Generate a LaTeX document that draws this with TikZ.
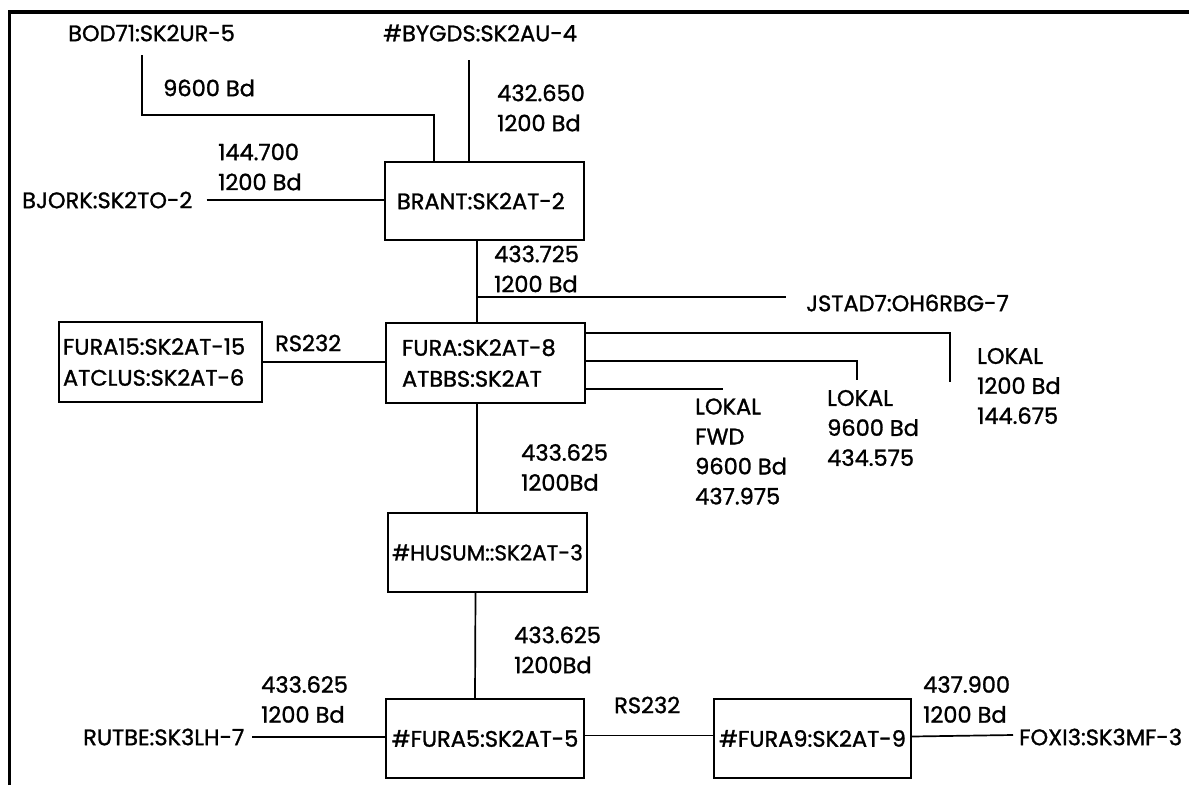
\documentclass[tikz,border=0pt]{standalone}
\usepackage{fontspec}
\setmainfont{Poppins}[UprightFeatures={FakeBold=1.2}]
\newcommand{\lf}{\fontsize{22.5}{30}\selectfont}
\begin{document}
\begin{tikzpicture}[x=1pt,y=-1pt,
  box/.style={draw,line width=1.8pt,inner sep=0pt,font=\lf,align=center},
  lbox/.style={draw,line width=1.8pt,inner ysep=0pt,font=\lf,align=left},
  lbl/.style={anchor=west,inner sep=0pt,align=left,font=\lf},
  wire/.style={line width=1.7pt}]
\useasboundingbox (0,0) rectangle (1189,785);
\fill[white] (0,0) rectangle (1189,785);
% frame
\draw[line width=3.5pt] (9.5,785) -- (9.5,12) -- (1189,12);
% boxes
\node[lbox,inner xsep=12pt,text width=175pt,minimum height=78pt] (brant) at (484.5,201) {BRANT:SK2AT-2};
\node[lbox,inner xsep=16pt,text width=167pt,minimum height=80pt] (fura) at (485.5,363) {FURA:SK2AT-8\\[1pt]ATBBS:SK2AT};
\node[lbox,inner xsep=4pt,text width=195pt,minimum height=80pt] (fura15) at (160.5,362) {FURA15:SK2AT-15\\[1pt]ATCLUS:SK2AT-6};
\node[box,minimum width=199pt,minimum height=79pt,font=\fontsize{21.5}{30}\selectfont] (husum) at (487.5,552.5) {\#HUSUM::SK2AT-3};
\node[box,minimum width=198pt,minimum height=79pt] (fura5) at (485,738.5) {\#FURA5:SK2AT-5};
\node[box,minimum width=197pt,minimum height=79pt] (fura9) at (812.5,738.5) {\#FURA9:SK2AT-9};
% end stations
\node[lbl] (bod) at (68,33) {BOD71:SK2UR-5};
\node[lbl] (bygds) at (383,33) {\#BYGDS:SK2AU-4};
\node[lbl] (bjork) at (22,200) {BJORK:SK2TO-2};
\node[lbl] (jstad) at (806,303) {JSTAD7:OH6RBG-7};
\node[lbl] (rutbe) at (83,737) {RUTBE:SK3LH-7};
\node[lbl] (foxi) at (1019,737) {FOXI3:SK3MF-3};
% link labels
\node[lbl] (l9600) at (163,88) {9600 Bd};
\node[lbl] (l432) at (497,108) {432.650\\1200 Bd};
\node[lbl] (l144) at (218,167) {144.700\\1200 Bd};
\node[lbl] (l433a) at (494,269) {433.725\\1200 Bd};
\node[lbl] (rs1) at (275,343) {RS232};
\node[lbl] (lok1) at (977,386) {LOKAL\\1200 Bd\\144.675};
\node[lbl] (lok2) at (827,428) {LOKAL\\9600 Bd\\434.575};
\node[lbl] (lok3) at (695,451.5) {LOKAL\\FWD\\9600 Bd\\437.975};
\node[lbl] (l433b) at (521,467.5) {433.625\\1200Bd};
\node[lbl] (l433c) at (514,650) {433.625\\1200Bd};
\node[lbl] (l433d) at (261,699.5) {433.625\\1200 Bd};
\node[lbl] (rs2) at (614,705) {RS232};
\node[lbl] (l437) at (923,699.5) {437.900\\1200 Bd};
% coordinates
\coordinate (b1) at (142,55);
\coordinate (b2) at (434,115);
\coordinate (g1) at (469,60);
\coordinate (j0) at (477,297);
\coordinate (j1) at (786,297);
\coordinate (k1) at (950,382);
\coordinate (k2) at (857,380);
% connectors
\draw[wire] (b1) |- (b2) -- (b2 |- brant.north);
\draw[wire] (g1) -- (g1 |- brant.north);
\draw[wire] ([xshift=14pt]bjork.east) -- (bjork.east -| brant.west);
\draw[wire] (j0 |- brant.south) -- (j0 |- fura.north);
\draw[wire] (j0) -- (j1);
\draw[wire] (fura15.east) -- (fura15.east -| fura.west);
\draw[wire] ([yshift=30pt]fura.east) -| (k1);
\draw[wire] ([yshift=2pt]fura.east) -| (k2);
\draw[wire] ([yshift=-26pt]fura.east) -- ++(137,0);
\draw[wire] (j0 |- fura.south) -- (j0 |- husum.north);
\draw[wire] ([xshift=-12pt]husum.south) -- ([xshift=-10pt]fura5.north);
\draw[wire] ([xshift=8pt]rutbe.east) -- (rutbe.east -| fura5.west);
\draw[wire] ([yshift=3pt]fura5.east) -- ([yshift=3pt]fura9.west);
\draw[wire] ([yshift=2pt]fura9.east) -- ([xshift=-6pt,yshift=2pt]foxi.west);
\end{tikzpicture}
\end{document}
